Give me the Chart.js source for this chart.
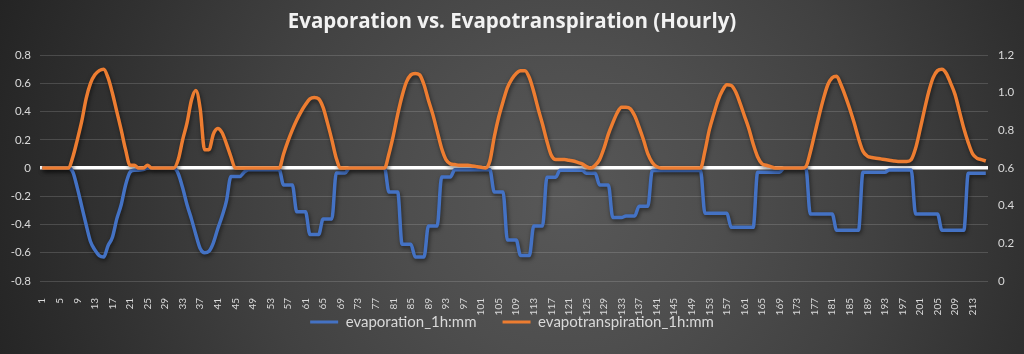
<!DOCTYPE html>
<html><head><meta charset="utf-8">
<script src="https://cdn.jsdelivr.net/npm/chart.js@4.4.1/dist/chart.umd.min.js"></script>
<style>html,body{margin:0;padding:0;background:#2a2a2a;}#wrap{width:1024px;height:354px;}</style>
</head><body><div id="wrap"><canvas id="c" width="1024" height="354"></canvas></div>
<script>
// Categories: hour index 1..216
const hours = [];
for (let h = 1; h <= 216; h++) hours.push(String(h));

const evaporation = [
  0,0,0,0,0,0,0,-0.03,-0.14,-0.27,-0.40,-0.52,
  -0.58,-0.62,-0.63,-0.55,-0.49,-0.36,-0.26,-0.12,-0.03,-0.015,-0.015,-0.01,
  0,0,0,0,0,0,0,-0.04,-0.14,-0.26,-0.36,-0.47,
  -0.57,-0.60,-0.59,-0.53,-0.43,-0.34,-0.23,-0.06,-0.06,-0.06,-0.03,-0.012,
  -0.012,-0.012,-0.012,-0.012,-0.012,-0.012,-0.012,-0.12,-0.12,-0.12,-0.31,-0.31,
  -0.31,-0.47,-0.47,-0.47,-0.36,-0.36,-0.36,-0.035,-0.035,-0.035,0,0,
  0,0,0,0,0,0,0,-0.17,-0.17,-0.17,-0.54,-0.54,
  -0.54,-0.63,-0.63,-0.63,-0.41,-0.41,-0.41,-0.064,-0.064,-0.064,-0.012,-0.012,
  -0.012,-0.012,-0.012,-0.012,-0.012,-0.012,-0.012,-0.17,-0.17,-0.17,-0.51,-0.51,
  -0.51,-0.62,-0.62,-0.62,-0.41,-0.41,-0.41,-0.065,-0.065,-0.065,-0.015,-0.015,
  -0.015,-0.015,-0.015,-0.015,-0.037,-0.037,-0.037,-0.12,-0.12,-0.12,-0.35,-0.35,
  -0.35,-0.34,-0.34,-0.34,-0.27,-0.27,-0.27,-0.018,-0.018,-0.018,-0.018,-0.018,
  -0.018,-0.018,-0.018,-0.018,-0.018,-0.018,-0.018,-0.32,-0.32,-0.32,-0.32,-0.32,
  -0.32,-0.42,-0.42,-0.42,-0.42,-0.42,-0.42,-0.03,-0.03,-0.03,-0.03,-0.03,
  -0.03,0,0,0,0,0,0,-0.325,-0.325,-0.325,-0.325,-0.325,
  -0.325,-0.44,-0.44,-0.44,-0.44,-0.44,-0.44,-0.03,-0.03,-0.03,-0.03,-0.03,
  -0.03,-0.013,-0.013,-0.013,-0.013,-0.013,-0.013,-0.325,-0.325,-0.325,-0.325,-0.325,
  -0.325,-0.44,-0.44,-0.44,-0.44,-0.44,-0.44,-0.037,-0.037,-0.037,-0.037,-0.037
];

const evapotranspiration = [
  0,0,0,0,0,0,0,0.08,0.2,0.33,0.49,0.60,
  0.66,0.69,0.70,0.64,0.53,0.40,0.27,0.13,0.02,0.02,0,0,
  0.02,0,0,0,0,0,0,0.06,0.2,0.32,0.48,0.55,
  0.42,0.13,0.13,0.24,0.28,0.25,0.17,0.08,0,0,0,0,
  0,0,0,0,0,0,0,0.1,0.19,0.27,0.34,0.40,
  0.45,0.49,0.50,0.49,0.43,0.32,0.20,0.07,0,0,0,0,
  0,0,0,0,0,0,0,0.1,0.23,0.38,0.51,0.61,
  0.66,0.67,0.66,0.59,0.48,0.38,0.26,0.14,0.06,0.03,0.025,0.02,
  0.02,0.02,0.015,0.01,0.005,0,0.05,0.22,0.36,0.47,0.57,0.63,
  0.67,0.69,0.69,0.64,0.54,0.42,0.31,0.19,0.09,0.06,0.06,0.06,
  0.055,0.05,0.04,0.03,0.01,0,0.02,0.06,0.14,0.24,0.32,0.39,
  0.43,0.43,0.42,0.37,0.29,0.2,0.1,0.04,0.01,0,0,0,
  0,0,0,0,0,0,0,0.12,0.27,0.38,0.48,0.55,
  0.59,0.585,0.54,0.46,0.37,0.28,0.17,0.08,0.03,0.02,0.01,0,
  0,0,0,0,0,0,0.01,0.11,0.24,0.37,0.49,0.59,
  0.64,0.65,0.59,0.51,0.42,0.32,0.21,0.12,0.085,0.075,0.07,0.065,
  0.06,0.055,0.05,0.047,0.047,0.047,0.06,0.14,0.27,0.41,0.54,0.64,
  0.69,0.70,0.67,0.60,0.52,0.40,0.28,0.18,0.10,0.07,0.06,0.05
];

const seriesNames = ['evaporation_1h:mm', 'evapotranspiration_1h:mm'];
const leftAxis = { min: -0.8, max: 0.8, step: 0.2 };
const rightAxis = { min: 0, max: 1.2, step: 0.2 };

const bgPlugin = {
  id: 'bg',
  beforeDraw(chart) {
    const { ctx, width, height } = chart;
    ctx.save();
    const g = ctx.createRadialGradient(565, 200, 0, 565, 200, 620);
    g.addColorStop(0, '#585858');
    g.addColorStop(0.25, '#4e4e4e');
    g.addColorStop(0.5, '#414141');
    g.addColorStop(0.75, '#313131');
    g.addColorStop(1, '#222222');
    ctx.fillStyle = g;
    ctx.fillRect(0, 0, width, height);
    ctx.restore();
  }
};
const shadowPlugin = {
  id: 'lineShadow',
  beforeDatasetDraw(chart) {
    const ctx = chart.ctx;
    ctx.save();
    ctx.shadowColor = 'rgba(0,0,0,0.55)';
    ctx.shadowBlur = 4;
    ctx.shadowOffsetX = 1;
    ctx.shadowOffsetY = 2;
  },
  afterDatasetDraw(chart) { chart.ctx.restore(); }
};

const tickColor = '#d9d9d9';
new Chart(document.getElementById('c'), {
  type: 'line',
  data: {
    labels: hours,
    datasets: [
      { label: seriesNames[0], data: evaporation, borderColor: '#4472C4', backgroundColor: '#4472C4',
        borderWidth: 3.5, pointRadius: 0, cubicInterpolationMode: 'monotone', order: 2, yAxisID: 'y' },
      { label: seriesNames[1], data: evapotranspiration, borderColor: '#ED7D31', backgroundColor: '#ED7D31',
        borderWidth: 3.5, pointRadius: 0, cubicInterpolationMode: 'monotone', order: 1, yAxisID: 'y' }
    ]
  },
  options: {
    responsive: false,
    animation: false,
    devicePixelRatio: 1,
    layout: { padding: { left: 0, right: 0, top: 0, bottom: 14.5 } },
    plugins: {
      tooltip: { enabled: false },
      title: {
        display: true,
        text: 'Evaporation vs. Evapotranspiration (Hourly)',
        color: '#f2f2f2',
        font: { family: 'Open Sans', size: 20.5, weight: 'bold' },
        padding: { top: 10, bottom: 20.5 }
      },
      legend: {
        position: 'bottom',
        labels: {
          color: '#d9d9d9',
          font: { family: 'Lato', size: 15 },
          boxWidth: 28,
          boxHeight: 3,
          padding: 26,
          sort: (a, b) => a.datasetIndex - b.datasetIndex,
          generateLabels(chart) {
            const items = Chart.defaults.plugins.legend.labels.generateLabels(chart);
            items.forEach(it => { it.lineWidth = 0; it.strokeStyle = 'rgba(0,0,0,0)'; });
            return items;
          }
        }
      }
    },
    scales: {
      x: {
        type: 'category',
        offset: true,
        grid: { display: false },
        border: { display: false },
        ticks: {
          autoSkip: false, minRotation: 90, maxRotation: 90, padding: 9,
          color: tickColor, font: { family: 'Lato', size: 10 },
          callback: function (v, i) { return i % 4 === 0 ? this.getLabelForValue(v) : null; }
        },
        afterFit: s => { s.height = 7.5; s._computeLabelArea = () => undefined; }
      },
      y: {
        position: 'left',
        min: leftAxis.min, max: leftAxis.max,
        border: { display: false },
        grid: {
          drawTicks: false,
          color: c => (c.tick && Math.abs(c.tick.value) < 1e-9) ? '#ffffff' : 'rgba(220,220,220,0.18)',
          lineWidth: c => (c.tick && Math.abs(c.tick.value) < 1e-9) ? 3.5 : 1
        },
        ticks: { stepSize: leftAxis.step, padding: 9, color: tickColor, font: { family: 'Lato', size: 11.5 } },
        afterFit: s => { s.width = 40; }
      },
      y1: {
        position: 'right',
        min: rightAxis.min, max: rightAxis.max,
        border: { display: false },
        grid: { display: false, drawTicks: false },
        ticks: { stepSize: rightAxis.step, padding: 10, color: tickColor, font: { family: 'Lato', size: 11.5 } },
        afterFit: s => { s.width = 36; }
      }
    }
  },
  plugins: [bgPlugin, shadowPlugin]
});
</script>
</body></html>
